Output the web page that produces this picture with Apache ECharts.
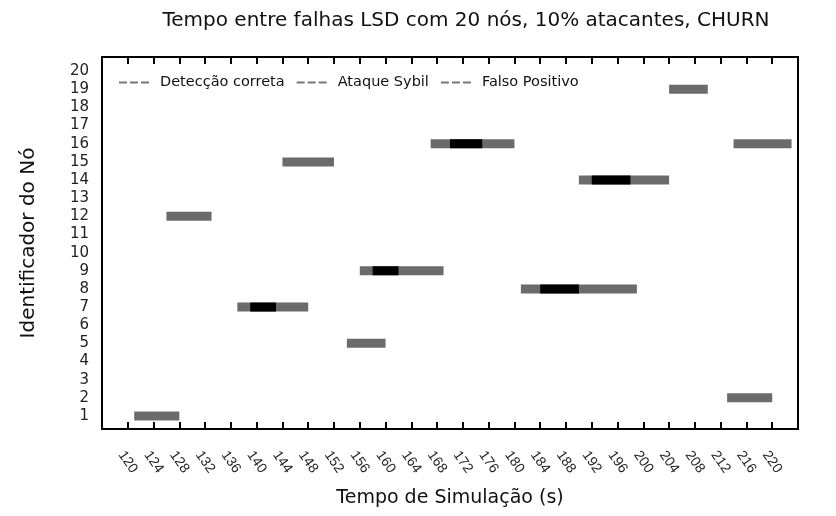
<!DOCTYPE html>
<html>
<head>
<meta charset="utf-8">
<script src="https://cdn.jsdelivr.net/npm/echarts@6/dist/echarts.min.js"></script>
<style>
  html, body { margin: 0; padding: 0; background: #fff; }
  #chart { width: 836px; height: 516px; }
</style>
</head>
<body>
<div id="chart"></div>
<script>
// Node identifiers shown on the y axis
const nodeIds = [1, 2, 3, 4, 5, 6, 7, 8, 9, 10, 11, 12, 13, 14, 15, 16, 17, 18, 19, 20];

// Simulation-time ticks (s)
const timeTicks = [120, 124, 128, 132, 136, 140, 144, 148, 152, 156, 160, 164, 168,
                   172, 176, 180, 184, 188, 192, 196, 200, 204, 208, 212, 216, 220];

// Intervals between failures: [start (s), end (s), node]
const deteccaoCorreta = [
  [121, 128, 1],
  [126, 133, 12],
  [144, 152, 15],
  [137, 148, 7],
  [154, 160, 5],
  [156, 169, 9],
  [167, 180, 16],
  [181, 199, 8],
  [190, 204, 14],
  [204, 210, 19],
  [214, 223, 16],
  [213, 220, 2]
];
const ataqueSybil = [
  [139, 143, 7],
  [158, 162, 9],
  [170, 175, 16],
  [184, 190, 8],
  [192, 198, 14]
];
const falsoPositivo = [];

const GRAY = '#6b6b6b';
const BLACK = '#000000';
const BAR_H = 9;

function barRenderer(color) {
  return function (params, api) {
    const a = api.coord([api.value(0), api.value(2)]);
    const b = api.coord([api.value(1), api.value(2)]);
    return {
      type: 'rect',
      shape: { x: a[0], y: a[1] - BAR_H / 2, width: b[0] - a[0], height: BAR_H },
      style: { fill: color }
    };
  };
}

const dashIcon = 'path://M0,0H8V2H0Z M11,0H19V2H11Z M22,0H30V2H22Z';
const FONT = 'DejaVu Sans';

const chart = echarts.init(document.getElementById('chart'), null, { renderer: 'canvas' });
chart.setOption({
  animation: false,
  backgroundColor: '#fff',
  title: {
    text: 'Tempo entre falhas LSD com 20 nós, 10% atacantes, CHURN',
    left: 461, top: 6, textAlign: 'center',
    textStyle: { fontFamily: FONT, fontSize: 20, fontWeight: 'normal', color: '#111' }
  },
  legend: {
    left: 114, top: 70, itemWidth: 30, itemHeight: 2, itemGap: 12,
    icon: dashIcon,
    selectedMode: false,
    textStyle: { fontFamily: FONT, fontSize: 14.5, color: '#111', padding: [0, 0, 0, 6] },
    data: [
      { name: 'Detecção correta', itemStyle: { color: '#777' } },
      { name: 'Ataque Sybil', itemStyle: { color: '#777' } },
      { name: 'Falso Positivo', itemStyle: { color: '#777' } }
    ]
  },
  grid: { left: 102, right: 38, top: 57, bottom: 87, show: true, borderColor: '#000', borderWidth: 2, backgroundColor: 'transparent' },
  xAxis: [{
    type: 'value', min: 116, max: 224, interval: 4,
    name: 'Tempo de Simulação (s)', nameLocation: 'middle', nameGap: 60,
    nameTextStyle: { fontFamily: FONT, fontSize: 19, color: '#111' },
    axisLine: { show: false },
    axisTick: { inside: true, length: 7, lineStyle: { color: '#000', width: 2 },
      customValues: timeTicks },
    splitLine: { show: false },
    axisLabel: {
      customValues: timeTicks,
      rotate: -55, align: 'center', verticalAlign: 'middle', margin: 33,
      fontFamily: 'Liberation Sans', fontSize: 14, color: '#222'
    }
  }, {
    type: 'value', min: 116, max: 224, interval: 4, position: 'top',
    axisLine: { show: false },
    axisTick: { inside: true, length: 7, lineStyle: { color: '#000', width: 2 }, customValues: timeTicks },
    axisLabel: { show: false }, splitLine: { show: false }
  }],
  yAxis: {
    type: 'value', min: 0.28, max: 20.78,
    name: 'Identificador do Nó', nameLocation: 'middle', nameGap: 63,
    nameTextStyle: { fontFamily: FONT, fontSize: 20, color: '#111' },
    axisLine: { show: false }, axisTick: { show: false }, splitLine: { show: false },
    axisLabel: { customValues: nodeIds, margin: 13, fontFamily: FONT, fontSize: 15, color: '#222' }
  },
  series: [
    { name: 'Detecção correta', type: 'custom', renderItem: barRenderer(GRAY),
      encode: { x: [0, 1], y: 2 }, data: deteccaoCorreta, itemStyle: { color: GRAY } },
    { name: 'Ataque Sybil', type: 'custom', renderItem: barRenderer(BLACK),
      encode: { x: [0, 1], y: 2 }, data: ataqueSybil, itemStyle: { color: BLACK } },
    { name: 'Falso Positivo', type: 'custom', renderItem: barRenderer(GRAY),
      encode: { x: [0, 1], y: 2 }, data: falsoPositivo, itemStyle: { color: GRAY } }
  ]
});
</script>
</body>
</html>
